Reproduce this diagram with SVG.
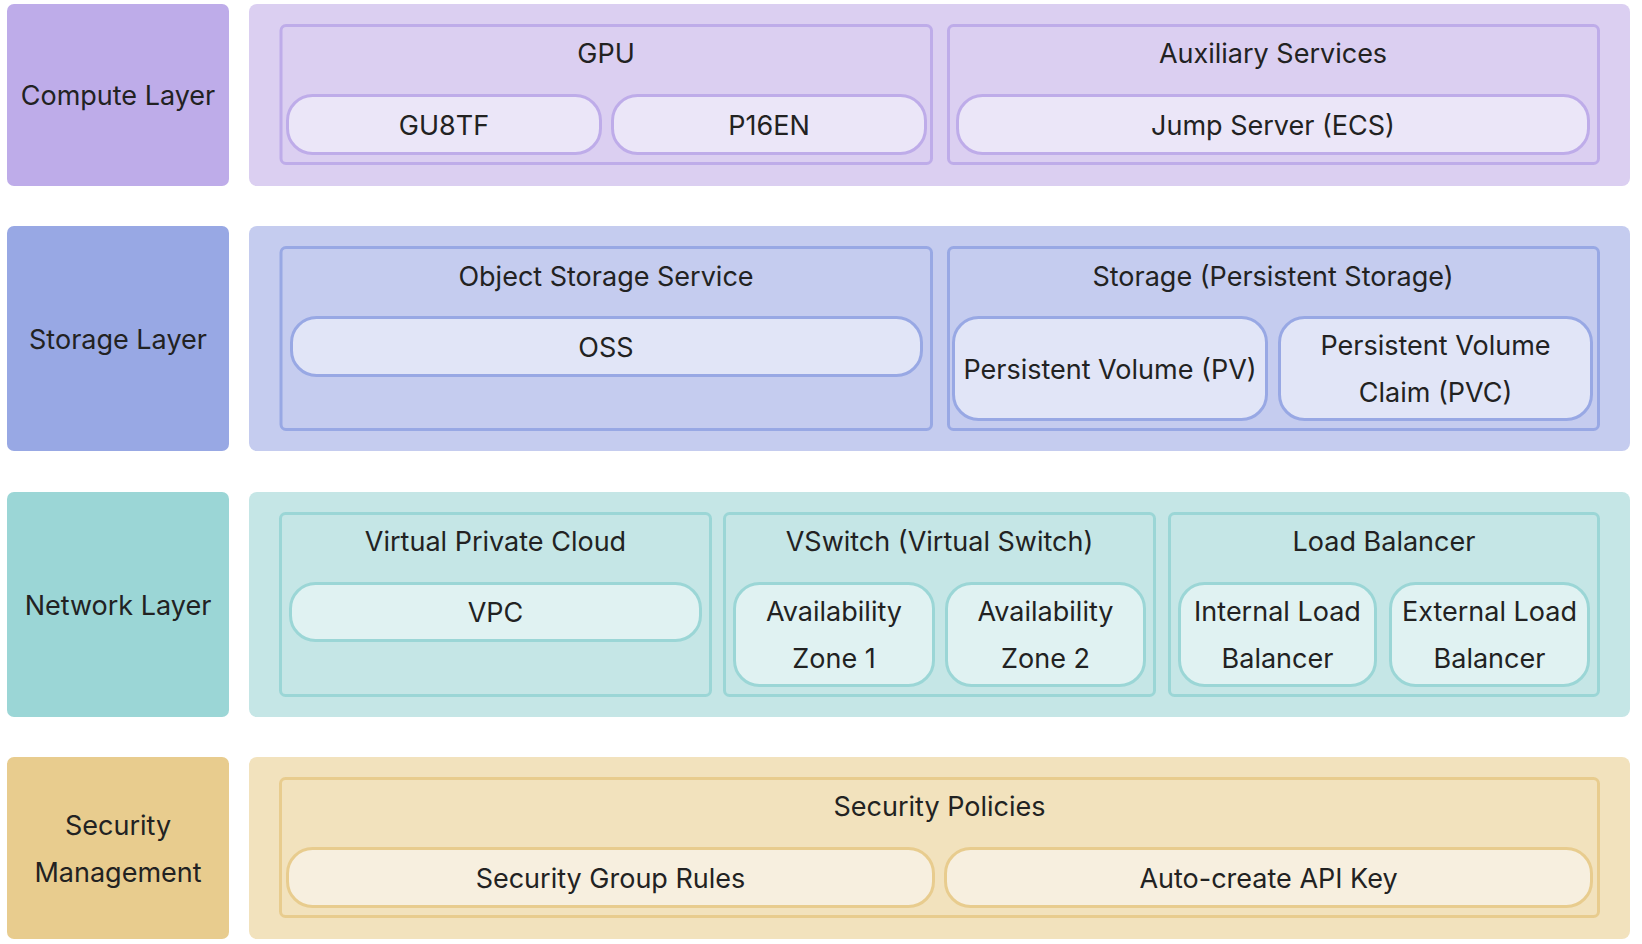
<svg xmlns="http://www.w3.org/2000/svg" width="1642" height="944" viewBox="0 0 1642 944">
<style>
text{font-family:Inter,"Noto Sans","Liberation Sans",sans-serif;font-size:27px;fill:#222;text-anchor:middle}
.lbl{stroke:none}
.grp,.pill{stroke-width:3}
.c .lbl{fill:#BEACE9}.c .pan{fill:#DBCFF1}.c .grp{fill:#DBCFF1;stroke:#BEACE9}.c .pill{fill:#EBE6F8;stroke:#BEACE9}
.s .lbl{fill:#98A8E4}.s .pan{fill:#C5CCEF}.s .grp{fill:#C5CCEF;stroke:#98A8E4}.s .pill{fill:#E1E5F7;stroke:#98A8E4}
.n .lbl{fill:#9BD6D6}.n .pan{fill:#C5E6E6}.n .grp{fill:#C5E6E6;stroke:#9BD6D6}.n .pill{fill:#E0F2F2;stroke:#9BD6D6}
.y .lbl{fill:#E8CC8E}.y .pan{fill:#F2E2BD}.y .grp{fill:#F2E2BD;stroke:#E8CC8E}.y .pill{fill:#F7EFDF;stroke:#E8CC8E}
</style>
<rect width="1642" height="944" fill="#fff"/>

<g class="c">
  <g id="compute-layer"><rect class="lbl" x="7" y="4" width="222" height="182" rx="7"/><text x="118" y="105">Compute Layer</text></g>
  <g id="compute-panel"><rect class="pan" x="249" y="4" width="1381" height="182" rx="8"/></g>
  <g id="gpu"><rect class="grp" x="281" y="25.5" width="650.5" height="138" rx="5"/><text x="606" y="63">GPU</text></g>
  <g id="gu8tf"><rect class="pill" x="287.5" y="95.5" width="313" height="58" rx="25"/><text x="444" y="134.5">GU8TF</text></g>
  <g id="p16en"><rect class="pill" x="612.5" y="95.5" width="313" height="58" rx="25"/><text x="769" y="134.5">P16EN</text></g>
  <g id="aux"><rect class="grp" x="948.5" y="25.5" width="650" height="138" rx="5"/><text x="1273" y="63">Auxiliary Services</text></g>
  <g id="jump"><rect class="pill" x="957.5" y="95.5" width="631" height="58" rx="25"/><text x="1273" y="134.5">Jump Server (ECS)</text></g>
</g>

<g class="s">
  <g id="storage-layer"><rect class="lbl" x="7" y="226" width="222" height="225" rx="7"/><text x="118" y="349">Storage Layer</text></g>
  <g id="storage-panel"><rect class="pan" x="249" y="226" width="1381" height="225" rx="8"/></g>
  <g id="oss-group"><rect class="grp" x="281" y="247.5" width="650.5" height="182" rx="5"/><text x="606" y="286">Object Storage Service</text></g>
  <g id="oss"><rect class="pill" x="291.5" y="317.5" width="630" height="58" rx="25"/><text x="606" y="356.5">OSS</text></g>
  <g id="persistent"><rect class="grp" x="948.5" y="247.5" width="650" height="182" rx="5"/><text x="1273" y="286">Storage (Persistent Storage)</text></g>
  <g id="pv"><rect class="pill" x="953.5" y="317.5" width="313" height="102" rx="25"/><text x="1110" y="378.5">Persistent Volume (PV)</text></g>
  <g id="pvc"><rect class="pill" x="1279.5" y="317.5" width="312" height="102" rx="25"/><text x="1435.5" y="355">Persistent Volume</text><text x="1435.5" y="402">Claim (PVC)</text></g>
</g>

<g class="n">
  <g id="network-layer"><rect class="lbl" x="7" y="492" width="222" height="225" rx="7"/><text x="118" y="614.5">Network Layer</text></g>
  <g id="network-panel"><rect class="pan" x="249" y="492" width="1381" height="225" rx="8"/></g>
  <g id="vpc-group"><rect class="grp" x="280.5" y="513.5" width="430" height="182" rx="5"/><text x="495.5" y="551">Virtual Private Cloud</text></g>
  <g id="vpc"><rect class="pill" x="290.5" y="583.5" width="410" height="57" rx="25"/><text x="495.5" y="622">VPC</text></g>
  <g id="vswitch"><rect class="grp" x="724.5" y="513.5" width="430" height="182" rx="5"/><text x="939.5" y="551">VSwitch (Virtual Switch)</text></g>
  <g id="az1"><rect class="pill" x="734.5" y="583.5" width="199" height="102" rx="25"/><text x="834" y="621">Availability</text><text x="834" y="668">Zone 1</text></g>
  <g id="az2"><rect class="pill" x="946.5" y="583.5" width="198" height="102" rx="25"/><text x="1045.5" y="621">Availability</text><text x="1045.5" y="668">Zone 2</text></g>
  <g id="lb"><rect class="grp" x="1169.5" y="513.5" width="429" height="182" rx="5"/><text x="1384" y="551">Load Balancer</text></g>
  <g id="ilb"><rect class="pill" x="1179.5" y="583.5" width="196" height="102" rx="25"/><text x="1277.5" y="621">Internal Load</text><text x="1277.5" y="668">Balancer</text></g>
  <g id="elb"><rect class="pill" x="1390.5" y="583.5" width="198" height="102" rx="25"/><text x="1489.5" y="621">External Load</text><text x="1489.5" y="668">Balancer</text></g>
</g>

<g class="y">
  <g id="security-mgmt"><rect class="lbl" x="7" y="757" width="222" height="182" rx="7"/><text x="118" y="834.5">Security</text><text x="118" y="881.5">Management</text></g>
  <g id="security-panel"><rect class="pan" x="249" y="757" width="1381" height="182" rx="8"/></g>
  <g id="policies"><rect class="grp" x="280.5" y="778.5" width="1318" height="138" rx="5"/><text x="939.5" y="816">Security Policies</text></g>
  <g id="sg-rules"><rect class="pill" x="287.5" y="848.5" width="646" height="58" rx="25"/><text x="610.5" y="887.5">Security Group Rules</text></g>
  <g id="api-key"><rect class="pill" x="945.5" y="848.5" width="646" height="58" rx="25"/><text x="1268.5" y="887.5">Auto-create API Key</text></g>
</g>

<g id="connectors"></g>
</svg>
